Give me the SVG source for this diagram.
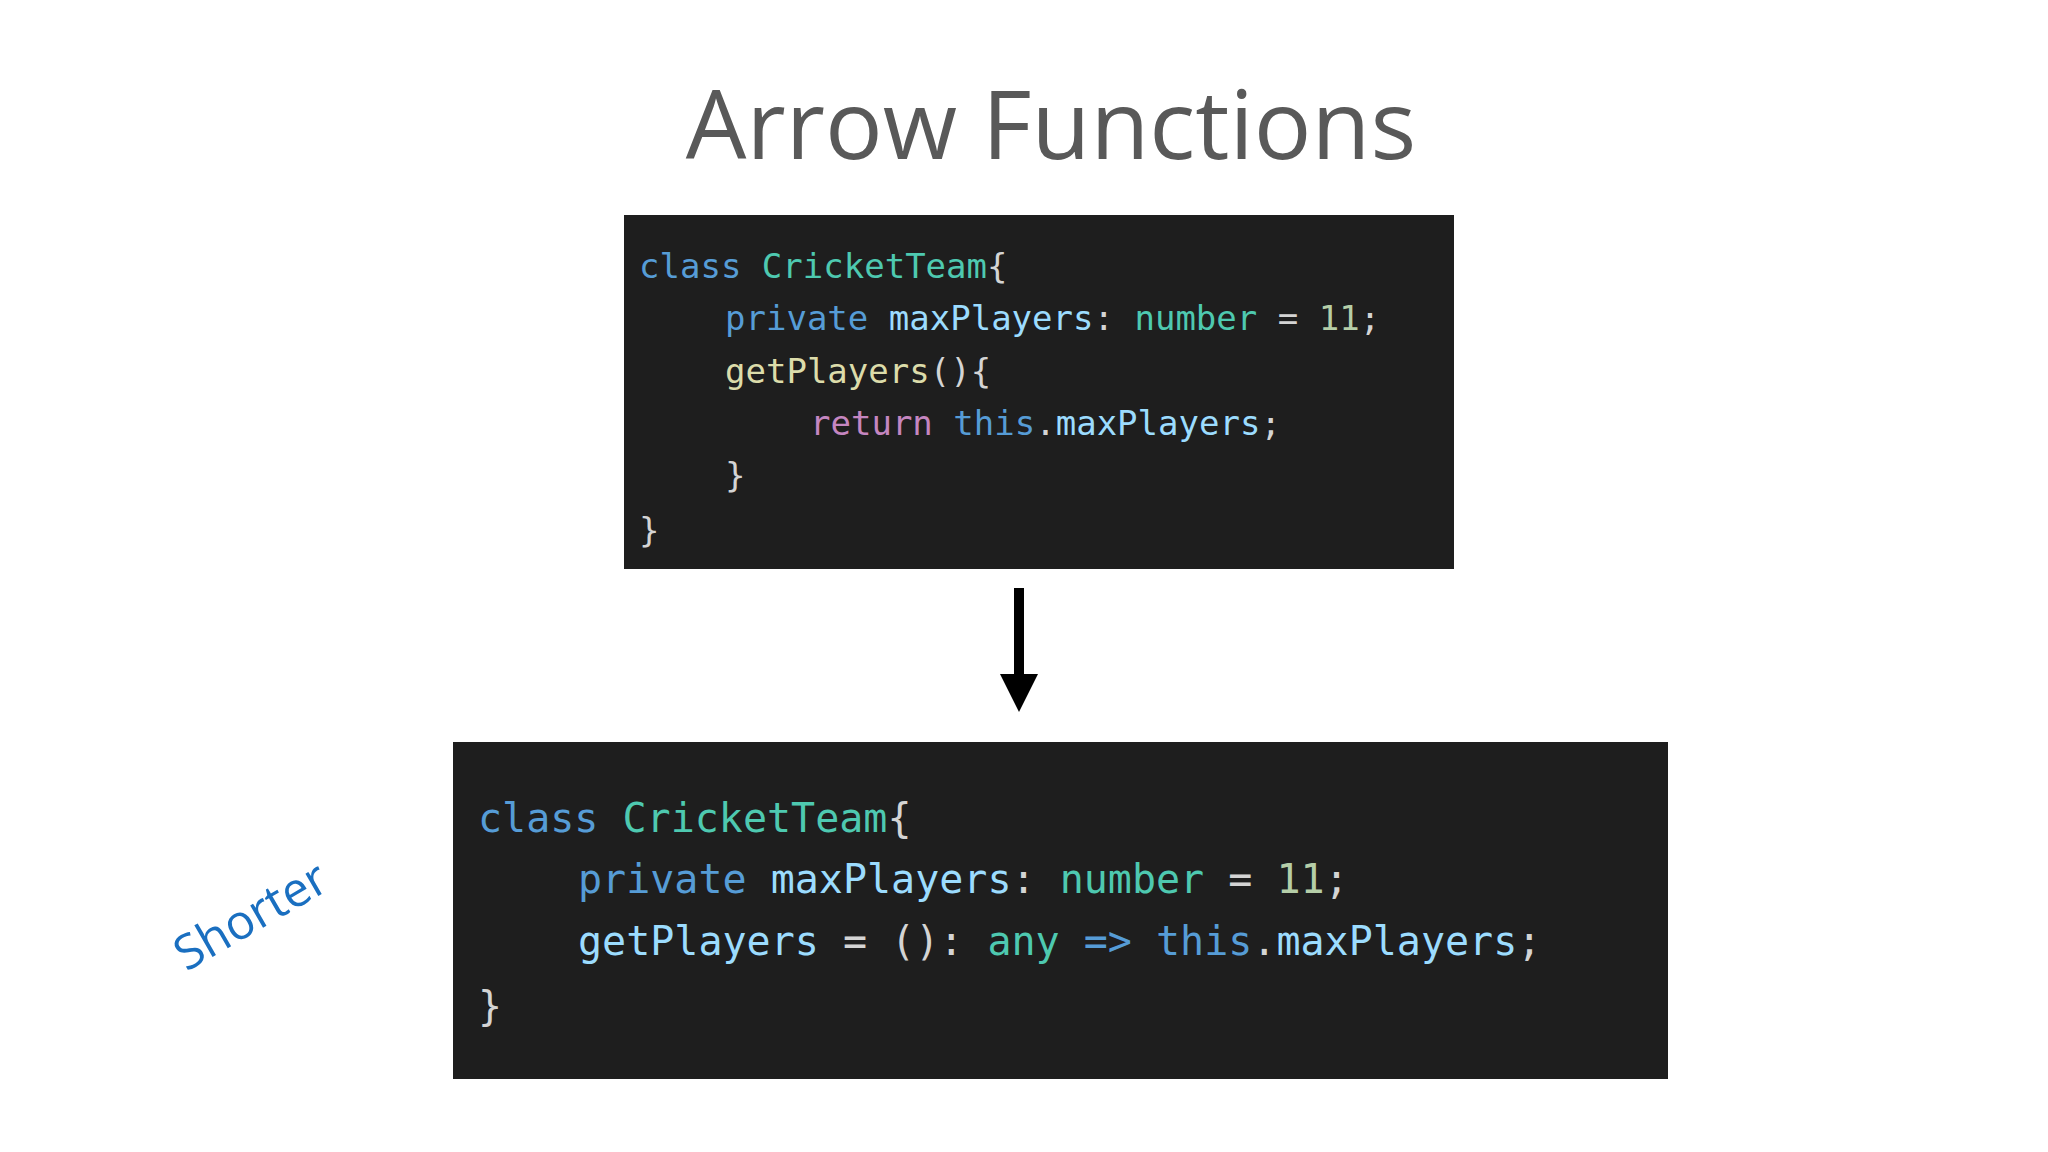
<svg xmlns="http://www.w3.org/2000/svg" width="2048" height="1152" viewBox="0 0 2048 1152">
<style>
.code{font-family:"DejaVu Sans Mono","Liberation Mono",monospace;fill:#d4d4d4;white-space:pre}
.c1{font-size:34px}.c2{font-size:40px}
.kw{fill:#569cd6}.ty{fill:#4ec9b0}.pr{fill:#9cdcfe}.nu{fill:#b5cea8}.fn{fill:#dcdcaa}.rt{fill:#c586c0}
</style>
<defs><marker id="ah" viewBox="0 0 10 10" refX="5" refY="8" markerWidth="10" markerHeight="10" markerUnits="userSpaceOnUse" orient="auto"><path d="M0,0 L10,0 L5,10 Z" fill="#000"/></marker></defs>
<rect width="2048" height="1152" fill="#fff"/>
<text x="1051" y="159" text-anchor="middle" font-family="Open Sans, Noto Sans, sans-serif" font-size="96" fill="#595959">Arrow Functions</text>
<g id="code1">
<rect x="624" y="215" width="830" height="354" fill="#1e1e1e"/>
<text class="code c1" x="639" y="278"><tspan class="kw">class</tspan> <tspan class="ty">CricketTeam</tspan>{</text>
<text class="code c1" x="725" y="330"><tspan class="kw">private</tspan> <tspan class="pr">maxPlayers</tspan>: <tspan class="ty">number</tspan> = <tspan class="nu">11</tspan>;</text>
<text class="code c1" x="725" y="383"><tspan class="fn">getPlayers</tspan>(){</text>
<text class="code c1" x="810" y="435"><tspan class="rt">return</tspan> <tspan class="kw">this</tspan>.<tspan class="pr">maxPlayers</tspan>;</text>
<text class="code c1" x="725" y="487">}</text>
<text class="code c1" x="639" y="542">}</text>
</g>
<g id="connectors">
<line x1="1019" y1="588" x2="1019" y2="700" stroke="#000" stroke-width="10"/>
<path d="M1000,674 L1038,674 L1019,712 Z" fill="#000"/>
</g>
<g id="code2">
<rect x="453" y="742" width="1215" height="337" fill="#1e1e1e"/>
<text class="code c2" x="478" y="832"><tspan class="kw">class</tspan> <tspan class="ty">CricketTeam</tspan>{</text>
<text class="code c2" x="578" y="893"><tspan class="kw">private</tspan> <tspan class="pr">maxPlayers</tspan>: <tspan class="ty">number</tspan> = <tspan class="nu">11</tspan>;</text>
<text class="code c2" x="578" y="955"><tspan class="pr">getPlayers</tspan> = (): <tspan class="ty">any</tspan> <tspan class="kw">=&gt;</tspan> <tspan class="kw">this</tspan>.<tspan class="pr">maxPlayers</tspan>;</text>
<text class="code c2" x="478" y="1020">}</text>
</g>
<g id="note">
<text x="252" y="932" text-anchor="middle" transform="rotate(-30 252 918)" font-family="Open Sans, Noto Sans, sans-serif" font-size="48" fill="#1a6fc0">Shorter</text>
</g>
</svg>
